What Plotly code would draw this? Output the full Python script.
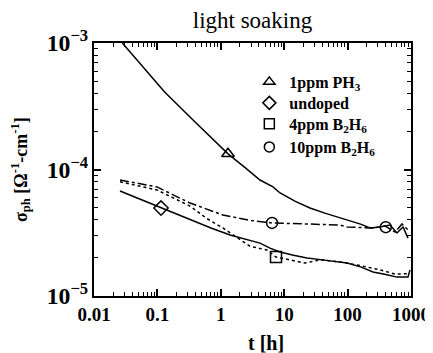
import plotly.graph_objects as go

# ---- data ----
ph3_t = [0.028, 0.06, 0.13, 0.365, 0.7, 1.3, 2.5, 4.15, 6.65, 8.6, 15, 25.5, 45, 76, 98, 160, 226, 324, 467, 601, 748, 897]
ph3_s = [1.0e-3, 6.4e-4, 4.1e-4, 2.46e-4, 1.8e-4, 1.33e-4, 1.02e-4, 8.26e-5, 7.28e-5, 6.52e-5, 5.6e-5, 4.96e-5, 4.5e-5, 4.14e-5, 3.99e-5, 3.7e-5, 3.45e-5, 3.51e-5, 3.64e-5, 3.15e-5, 3.51e-5, 2.87e-5]

undoped_t = [0.0257, 0.05, 0.114, 0.2, 0.327, 0.7, 1.4, 2.5, 4.15, 5.97, 8.59, 14, 22.9, 40, 75.9, 98, 160, 252, 400, 601, 897, 964]
undoped_s = [6.76e-5, 5.9e-5, 4.96e-5, 4.45e-5, 3.99e-5, 3.45e-5, 3.04e-5, 2.8e-5, 2.62e-5, 2.39e-5, 2.23e-5, 2.1e-5, 2.0e-5, 1.93e-5, 1.86e-5, 1.82e-5, 1.7e-5, 1.55e-5, 1.48e-5, 1.41e-5, 1.41e-5, 1.61e-5]

b4_t = [0.0257, 0.0986, 0.327, 0.6, 1.08, 2.0, 2.89, 5.35, 7.43, 12.3, 21.3, 36.7, 75.9, 150, 324, 560, 897]
b4_s = [8.0e-5, 6.89e-5, 5.14e-5, 4.1e-5, 3.45e-5, 2.8e-5, 2.47e-5, 2.31e-5, 2.03e-5, 1.93e-5, 1.82e-5, 1.93e-5, 1.86e-5, 1.75e-5, 1.61e-5, 1.49e-5, 1.5e-5]

b10_t = [0.0257, 0.0986, 0.327, 1.08, 3.0, 6.43, 22.9, 75.9, 98, 252, 389, 560, 721, 897]
b10_s = [8.26e-5, 7.28e-5, 5.43e-5, 4.37e-5, 3.95e-5, 3.78e-5, 3.71e-5, 3.64e-5, 3.51e-5, 3.45e-5, 3.58e-5, 3.2e-5, 3.71e-5, 3.33e-5]

# marker points on each curve
ph3_mt, ph3_ms = [1.3], [1.33e-4]
undoped_mt, undoped_ms = [0.114], [4.96e-5]
b4_mt, b4_ms = [7.43], [2.03e-5]
b10_mt, b10_ms = [6.43, 400], [3.78e-5, 3.5e-5]

labels = ["1ppm PH<sub>3</sub>", "undoped", "4ppm B<sub>2</sub>H<sub>6</sub>", "10ppm B<sub>2</sub>H<sub>6</sub>"]
symbols = ["triangle-up-open", "diamond-open", "square-open", "circle-open"]
legend_rows = [0.846, 0.763, 0.680, 0.589]   # vertical position of each legend entry (paper)

SERIF = "Liberation Serif"

fig = go.Figure()

series = [
    (ph3_t, ph3_s, ph3_mt, ph3_ms, "solid", symbols[0]),
    (undoped_t, undoped_s, undoped_mt, undoped_ms, "solid", symbols[1]),
    (b4_t, b4_s, b4_mt, b4_ms, "dot", symbols[2]),
    (b10_t, b10_s, b10_mt, b10_ms, "dashdot", symbols[3]),
]
for t, s, mt, ms, dash, sym in series:
    fig.add_trace(go.Scatter(x=t, y=s, mode="lines", showlegend=False,
                             line=dict(color="black", width=1.5, dash=dash)))
    fig.add_trace(go.Scatter(x=mt, y=ms, mode="markers", showlegend=False,
                             marker=dict(symbol=sym, size=11, color="black",
                                         line=dict(color="black", width=1.5))))

legend_layouts = {}
for i, (lab, sym, ly) in enumerate(zip(labels, symbols, legend_rows)):
    key = "legend" if i == 0 else f"legend{i + 1}"
    fig.add_trace(go.Scatter(x=[None], y=[None], mode="markers", name=lab, legend=key,
                             marker=dict(symbol=sym, size=10, color="black",
                                         line=dict(color="black", width=1.5))))
    legend_layouts[key] = dict(x=0.49, xanchor="left", y=ly, yanchor="middle",
                               bgcolor="rgba(0,0,0,0)", itemwidth=30,
                               font=dict(family=SERIF, size=16, color="black", weight="bold"))

axis_common = dict(
    showline=True, linecolor="black", linewidth=2, mirror="allticks",
    ticks="inside", ticklen=7, tickwidth=1.5, tickcolor="black",
    showgrid=False, zeroline=False, automargin=False,
    minor=dict(ticks="inside", ticklen=4, tickwidth=1, tickcolor="black", showgrid=False),
    tickfont=dict(family=SERIF, size=19, color="black", weight="bold"),
)

fig.update_xaxes(type="log", range=[-2, 3], dtick=1, exponentformat="none", **axis_common)
fig.update_yaxes(type="log", range=[-5, -3], dtick=1, exponentformat="power", **axis_common)

# the page body adds an 8px offset, so the figure is 8px smaller on each side
fig.update_layout(
    width=425, height=345,
    margin=dict(l=86, r=22, t=35, b=57, autoexpand=False),
    paper_bgcolor="white", plot_bgcolor="white",
    title=dict(text="light soaking", xref="paper", x=0.5, xanchor="center",
               yref="container", y=0.965, yanchor="middle",
               font=dict(family=SERIF, size=23, color="black")),
    annotations=[
        dict(text="t [h]", xref="paper", yref="paper", x=0.543, y=-0.186,
             xanchor="center", yanchor="middle", showarrow=False,
             font=dict(family=SERIF, size=20, color="black", weight="bold")),
        dict(text="σ<sub>ph</sub> [Ω<sup>-1</sup>-cm<sup>-1</sup>]", xref="paper", yref="paper",
             x=-0.232, y=0.5, xanchor="center", yanchor="middle", textangle=-90, showarrow=False,
             font=dict(family=SERIF, size=18, color="black", weight="bold")),
    ],
    **legend_layouts,
)

fig.write_html("out.html")
